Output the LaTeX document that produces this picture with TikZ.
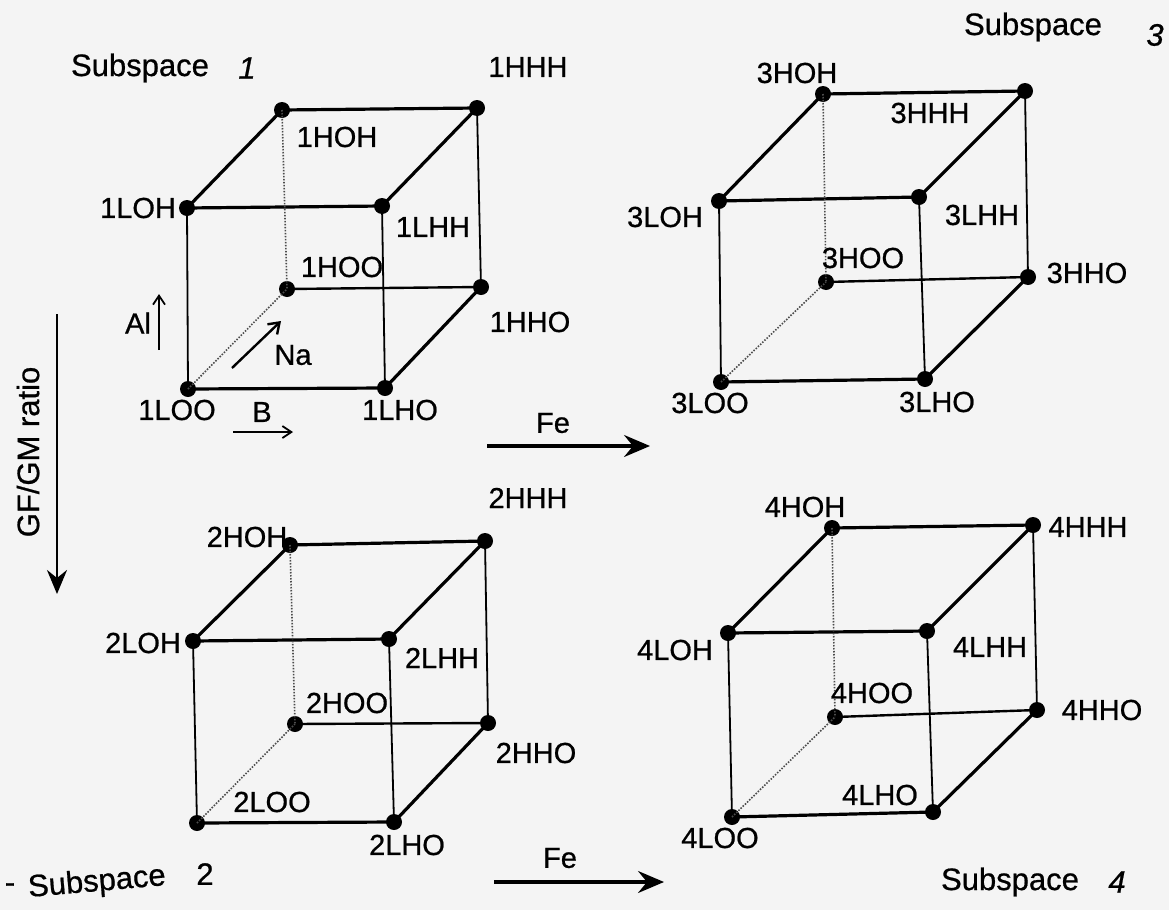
\documentclass[tikz,border=0pt]{standalone}
\usepackage{fontspec}
\setmainfont{Liberation Sans}[FakeBold=0.6,AutoFakeBold=0.6]
\newfontfamily\scanfont{Liberation Sans}[FakeBold=0.7]
\usetikzlibrary{arrows.meta}
\definecolor{paper}{RGB}{244,244,244}
\begin{document}
\begin{tikzpicture}[x=1pt,y=-1pt,
  dot/.style={circle,fill=black,inner sep=0pt,minimum size=16pt},
  lab/.style={font=\scanfont\fontsize{29}{32}\selectfont,inner sep=0pt,anchor=center},
  sublab/.style={font=\scanfont\fontsize{31}{34}\selectfont,inner sep=0pt},
  heavy/.style={line width=3.2pt,line cap=round,line join=round},
  mid/.style={line width=2.4pt},
  light/.style={line width=1.8pt},
  hidden/.style={line width=1.6pt,black!70,dash pattern=on 1.5pt off 1.5pt},
  bigarrow/.style={line width=3.2pt,-{Stealth[length=26pt,width=22pt,inset=9pt]}},
  smallarrow/.style={line width=1.8pt,-{Straight Barb[length=9pt,width=12pt]}},
]
\fill[paper] (0,0) rectangle (1169,910);
\useasboundingbox (0,0) rectangle (1169,910);

% ---------- Cube 1 ----------
\node[dot] (c1-HOH) at (282,110) {};
\node[dot] (c1-HHH) at (477,108) {};
\node[dot] (c1-LOH) at (187,208) {};
\node[dot] (c1-LHH) at (382,206) {};
\node[dot] (c1-HOO) at (287,289) {};
\node[dot] (c1-HHO) at (481,287) {};
\node[dot] (c1-LOO) at (188,389) {};
\node[dot] (c1-LHO) at (385,388) {};

% ---------- Cube 3 ----------
\node[dot] (c3-HOH) at (823,94) {};
\node[dot] (c3-HHH) at (1025,91) {};
\node[dot] (c3-LOH) at (719,201) {};
\node[dot] (c3-LHH) at (919,197) {};
\node[dot] (c3-HOO) at (826,282) {};
\node[dot] (c3-HHO) at (1028,277) {};
\node[dot] (c3-LOO) at (721,382) {};
\node[dot] (c3-LHO) at (925,379) {};

% ---------- Cube 2 ----------
\node[dot] (c2-HOH) at (290,545) {};
\node[dot] (c2-HHH) at (485,541) {};
\node[dot] (c2-LOH) at (193,641) {};
\node[dot] (c2-LHH) at (389,639) {};
\node[dot] (c2-HOO) at (295,724) {};
\node[dot] (c2-HHO) at (488,723) {};
\node[dot] (c2-LOO) at (197,823) {};
\node[dot] (c2-LHO) at (394,822) {};

% ---------- Cube 4 ----------
\node[dot] (c4-HOH) at (832,528) {};
\node[dot] (c4-HHH) at (1033,525) {};
\node[dot] (c4-LOH) at (728,633) {};
\node[dot] (c4-LHH) at (927,631) {};
\node[dot] (c4-HOO) at (835,717) {};
\node[dot] (c4-HHO) at (1037,710) {};
\node[dot] (c4-LOO) at (732,817) {};
\node[dot] (c4-LHO) at (933,812) {};

% ---------- Edges ----------
\foreach \c in {1,2,3,4}{
  \draw[heavy] (c\c-LOH.center) -- (c\c-HOH.center) -- (c\c-HHH.center) -- (c\c-LHH.center) -- (c\c-LOH.center);
  \draw[heavy] (c\c-LOO.center) -- (c\c-LHO.center) -- (c\c-HHO.center);
  \draw[mid] (c\c-HOO.center) -- (c\c-HHO.center);
  \draw[light] (c\c-LOH.center) -- (c\c-LOO.center);
  \draw[light] (c\c-LHH.center) -- (c\c-LHO.center);
  \draw[light] (c\c-HHH.center) -- (c\c-HHO.center);
  \draw[hidden] (c\c-HOH.center) -- (c\c-HOO.center);
  \draw[hidden] (c\c-LOO.center) -- (c\c-HOO.center);
}

% ---------- Labels cube 1 ----------
\node[lab] (t1-HHH) at (528,67) {1HHH};
\node[lab] (t1-HOH) at (337,137) {1HOH};
\node[lab] (t1-LOH) at (138,208) {1LOH};
\node[lab] (t1-LHH) at (433,227) {1LHH};
\node[lab] (t1-HOO) at (342,267) {1HOO};
\node[lab] (t1-HHO) at (530,322) {1HHO};
\node[lab] (t1-LOO) at (177,410) {1LOO};
\node[lab] (t1-LHO) at (400,410) {1LHO};

% ---------- Labels cube 3 ----------
\node[lab] (t3-HOH) at (797,73) {3HOH};
\node[lab] (t3-HHH) at (930,113) {3HHH};
\node[lab] (t3-LOH) at (665,217) {3LOH};
\node[lab] (t3-LHH) at (982,215) {3LHH};
\node[lab] (t3-HOO) at (863,258) {3HOO};
\node[lab] (t3-HHO) at (1087,273) {3HHO};
\node[lab] (t3-LOO) at (710,403) {3LOO};
\node[lab] (t3-LHO) at (937,402) {3LHO};

% ---------- Labels cube 2 ----------
\node[lab] (t2-HHH) at (528,498) {2HHH};
\node[lab] (t2-HOH) at (247,537) {2HOH};
\node[lab] (t2-LOH) at (143,643) {2LOH};
\node[lab] (t2-LHH) at (442,658) {2LHH};
\node[lab] (t2-HOO) at (347,703) {2HOO};
\node[lab] (t2-HHO) at (536,753) {2HHO};
\node[lab] (t2-LOO) at (272,802) {2LOO};
\node[lab] (t2-LHO) at (407,845) {2LHO};

% ---------- Labels cube 4 ----------
\node[lab] (t4-HOH) at (805,507) {4HOH};
\node[lab] (t4-HHH) at (1088,527) {4HHH};
\node[lab] (t4-LOH) at (675,650) {4LOH};
\node[lab] (t4-LHH) at (990,647) {4LHH};
\node[lab] (t4-HOO) at (872,693) {4HOO};
\node[lab] (t4-HHO) at (1102,710) {4HHO};
\node[lab] (t4-LOO) at (720,838) {4LOO};
\node[lab] (t4-LHO) at (880,795) {4LHO};

% ---------- Subspace titles ----------
\node[sublab] (s1) at (140,68) {Subspace};
\node[sublab] (s1n) at (247,68) {\itshape 1};
\node[sublab] (s3) at (1033,27) {Subspace};
\node[sublab] (s3n) at (1155,35) {\itshape 3};
\node[sublab,rotate=5] (s2) at (97,883) {Subspace};
\node[sublab] (s2d) at (10,888) {-};
\node[sublab] (s2n) at (205,874) {2};
\node[sublab] (s4) at (1010,882) {Subspace};
\node[sublab] (s4n) at (1117,882) {\itshape 4};

% ---------- Axis arrows in cube 1 ----------
\coordinate (alS) at (159,350);
\coordinate (alE) at (159,294);
\draw[smallarrow] (alS) -- (alE);
\node[lab] (al) at (138,323) {Al};

\coordinate (naS) at (232,368);
\coordinate (naE) at (281,321);
\draw[line width=2.4pt,-{Straight Barb[length=10pt,width=14pt]}] (naS) -- (naE);
\node[lab] (na) at (293,355) {Na};

\coordinate (bS) at (233,432);
\coordinate (bE) at (293,432);
\draw[smallarrow] (bS) -- (bE);
\node[lab] (bl) at (262,412) {B};

% ---------- Fe arrows ----------
\coordinate (fe1S) at (487,446);
\coordinate (fe1E) at (650,446);
\draw[bigarrow] (fe1S) -- (fe1E);
\node[lab] (fe1) at (553,423) {Fe};

\coordinate (fe2S) at (494,882);
\coordinate (fe2E) at (664,882);
\draw[bigarrow] (fe2S) -- (fe2E);
\node[lab] (fe2) at (560,858) {Fe};

% ---------- GF/GM ratio ----------
\coordinate (gfS) at (57,314);
\coordinate (gfE) at (57,594);
\draw[line width=2.8pt,-{Stealth[length=24pt,width=20pt,inset=8pt]}] (gfS) -- (gfE);
\node[sublab,rotate=90] (gf) at (28,452) {GF/GM ratio};
\end{tikzpicture}
\end{document}
